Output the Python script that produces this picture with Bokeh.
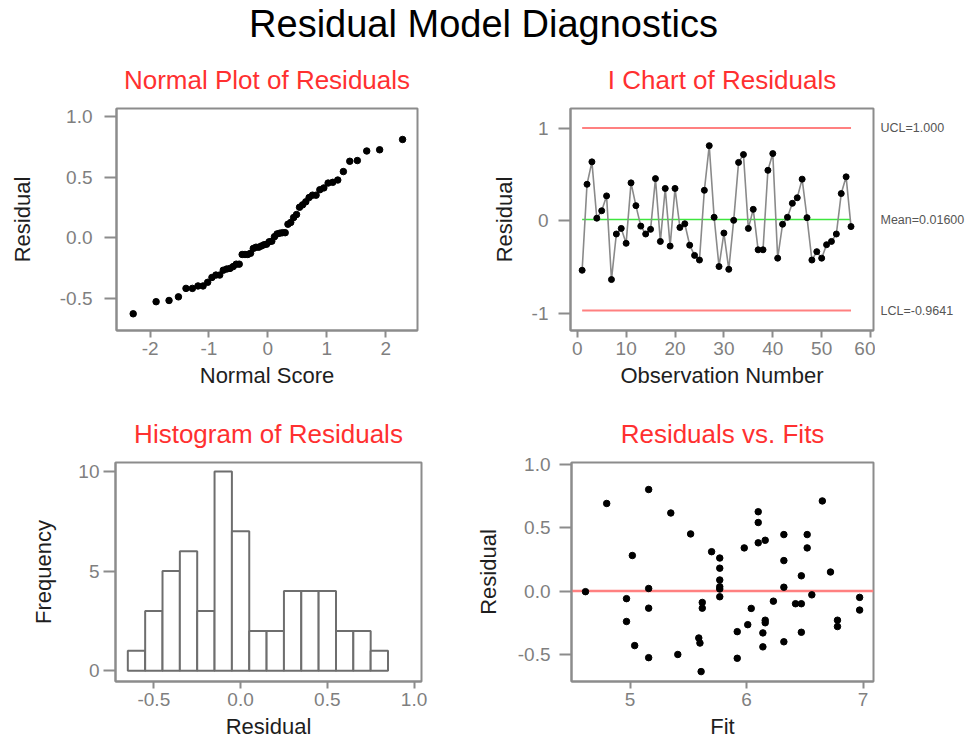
from statistics import NormalDist
from bokeh.plotting import figure
from bokeh.models import FixedTicker, PrintfTickFormatter, Range1d
from bokeh.core.properties import value
from bokeh.layouts import column, row
from bokeh.embed import file_html
from bokeh.resources import INLINE

# ---------------- data ----------------
main_title = "Residual Model Diagnostics"

# residuals in observation order (I chart)
residuals = [-0.53, 0.395, 0.636, 0.03, 0.11, 0.27, -0.63, -0.14, -0.08, -0.24,
             0.41, 0.165, -0.055, -0.14, -0.09, 0.456, -0.22, 0.35, -0.27, 0.35,
             -0.07, -0.03, -0.26, -0.37, -0.42, 0.33, 0.81, 0.04, -0.49, -0.13,
             -0.52, 0.007, 0.63, 0.715, -0.08, 0.125, -0.31, -0.31, 0.545, 0.725,
             -0.40, -0.035, 0.04, 0.19, 0.25, 0.45, 0.036, -0.42, -0.33, -0.40,
             -0.255, -0.22, -0.14, 0.295, 0.475, -0.06]
observations = list(range(1, len(residuals) + 1))
ucl = 1.000
center_mean = 0.01600
lcl = -0.9641

# residuals vs fits
fits = [4.618, 4.80, 4.97, 4.97, 5.02, 5.04, 5.16, 5.16, 5.16, 5.16,
        5.35, 5.41, 5.52, 5.59, 5.60, 5.61, 5.62, 5.62, 5.70, 5.77,
        5.77, 5.77, 5.77, 5.77, 5.77, 5.92, 5.92, 5.98, 6.01, 6.04,
        6.10, 6.10, 6.10, 6.14, 6.14, 6.16, 6.16, 6.16, 6.23, 6.32,
        6.32, 6.32, 6.32, 6.42, 6.47, 6.47, 6.47, 6.52, 6.52, 6.56,
        6.65, 6.72, 6.78, 6.78, 6.97, 6.97]
fit_residuals = [-0.005, 0.69, -0.06, -0.24, 0.28, -0.43, 0.80, 0.02, -0.135, -0.525,
                 0.615, -0.50, 0.45, -0.37, -0.41, -0.635, -0.09, -0.135, 0.31, 0.26,
                 0.18, 0.087, 0.034, 0.016, -0.045, -0.32, -0.53, 0.34, -0.265, -0.137,
                 0.625, 0.54, 0.38, -0.33, -0.44, 0.40, -0.23, -0.25, -0.08, 0.445,
                 0.24, 0.03, -0.40, -0.10, -0.10, 0.12, -0.325, 0.445, 0.34, -0.03,
                 0.71, 0.15, -0.23, -0.28, -0.05, -0.15]

# histogram
hist_centers = [-0.6, -0.5, -0.4, -0.3, -0.2, -0.1, 0.0, 0.1, 0.2, 0.3, 0.4, 0.5, 0.6, 0.7, 0.8]
hist_counts = [1, 3, 5, 6, 3, 10, 7, 2, 2, 4, 4, 4, 2, 2, 1]
bin_width = 0.1

# normal plot: sorted residuals vs Blom normal scores
n = len(residuals)
sorted_res = sorted(residuals)
normal_scores = [NormalDist().inv_cdf((i + 1 - 0.375) / (n + 0.25)) for i in range(n)]

# ticks
np_xticks = [-2, -1, 0, 1, 2]
res_ticks = [-0.5, 0.0, 0.5, 1.0]
ic_xticks = [0, 10, 20, 30, 40, 50, 60]
ic_yticks = [-1, 0, 1]
hist_xticks = [-0.5, 0.0, 0.5, 1.0]
hist_yticks = [0, 5, 10]
fit_xticks = [5, 6, 7]

# ---------------- style ----------------
FONT = "Liberation Sans"
GREY = "#8c8c8c"
TICK_TXT = "#7f7f7f"
TITLE_RED = "#ff3030"


def make_fig(title, width, height, bl, br, bt, bb, xr, yr):
    p = figure(width=width, height=height, title=title, output_backend="svg",
               toolbar_location=None, x_range=Range1d(*xr), y_range=Range1d(*yr),
               min_border_left=bl, min_border_right=br, min_border_top=bt,
               min_border_bottom=bb)
    p.title.align = "center"
    p.title.text_font = FONT
    p.title.text_font_size = "26px"
    p.title.text_font_style = "normal"
    p.title.text_color = TITLE_RED
    p.title.standoff = 27
    p.xgrid.visible = False
    p.ygrid.visible = False
    p.outline_line_color = GREY
    p.outline_line_width = 2
    p.outline_line_alpha = 1
    p.background_fill_color = "white"
    p.border_fill_color = "white"
    for ax in (p.xaxis[0], p.yaxis[0]):
        ax.axis_line_color = GREY
        ax.axis_line_width = 2
        ax.major_tick_line_color = GREY
        ax.major_tick_line_width = 2
        ax.major_tick_in = 0
        ax.minor_tick_line_color = None
        ax.major_label_text_font = FONT
        ax.major_label_text_font_size = "19px"
        ax.major_label_text_color = TICK_TXT
        ax.axis_label_text_font = FONT
        ax.axis_label_text_font_size = "22px"
        ax.axis_label_text_font_style = "normal"
        ax.axis_label_text_color = "#1e1e1e"
    p.xaxis[0].major_tick_out = 7
    p.xaxis[0].major_label_standoff = 4
    p.xaxis[0].axis_label_standoff = 5
    p.yaxis[0].major_tick_out = 12
    return p


def blank_fig(width, height, xr, yr, bt=0, bb=0):
    p = figure(width=width, height=height, output_backend="svg", toolbar_location=None,
               x_range=Range1d(*xr), y_range=yr, x_axis_location=None,
               y_axis_location=None, min_border_left=0, min_border_right=0,
               min_border_top=bt, min_border_bottom=bb)
    p.xgrid.visible = False
    p.ygrid.visible = False
    p.outline_line_color = None
    p.background_fill_color = "white"
    p.border_fill_color = "white"
    return p


H0, H1, H2 = 46, 349, 349     # title strip, top row, bottom row heights

# 0. main title strip
p0 = blank_fig(966, H0, (0, 1), Range1d(0, 1))
p0.text(x=[0.5], y=[0.5], text=[main_title], text_font=value(FONT),
        text_font_size="38px", text_color="black", text_align="center",
        text_baseline="middle")

# 1. Normal plot of residuals
p1 = make_fig("Normal Plot of Residuals", 483, H1, 116, 66, 62, 65,
              (-2.57, 2.54), (-0.768, 1.066))
p1.scatter(normal_scores, sorted_res, size=6.5, color="black")
p1.xaxis.ticker = FixedTicker(ticks=np_xticks)
p1.xaxis.formatter = PrintfTickFormatter(format="%d")
p1.yaxis.ticker = FixedTicker(ticks=res_ticks)
p1.yaxis.formatter = PrintfTickFormatter(format="%.1f")
p1.xaxis.axis_label = "Normal Score"
p1.yaxis.axis_label = "Residual"
p1.yaxis.major_label_standoff = 12
p1.yaxis.axis_label_standoff = 22

# 2. I chart of residuals
p2 = make_fig("I Chart of Residuals", 392, H1, 87, 2, 62, 65,
              (-1.38, 60.6), (-1.178, 1.21))
x0, x1 = observations[0], observations[-1]
p2.line([x0, x1], [ucl, ucl], color="#ff8080", line_width=2)
p2.line([x0, x1], [lcl, lcl], color="#ff8080", line_width=2)
p2.line([x0, x1], [center_mean, center_mean], color="#3ee63e", line_width=1.5)
p2.line(observations, residuals, color="#8a8a8a", line_width=1.6)
p2.scatter(observations, residuals, size=6, color="black")
p2.xaxis.ticker = FixedTicker(ticks=ic_xticks)
p2.xaxis.formatter = PrintfTickFormatter(format="%d")
p2.yaxis.ticker = FixedTicker(ticks=ic_yticks)
p2.yaxis.formatter = PrintfTickFormatter(format="%d")
p2.xaxis.axis_label = "Observation Number"
p2.yaxis.axis_label = "Residual"
p2.yaxis.major_label_standoff = 10
p2.yaxis.axis_label_standoff = 12

# control-limit labels, in a strip sharing the I chart's y range
p2l = blank_fig(91, H1, (0, 1), p2.y_range, bt=62, bb=65)
p2l.text(x=[0, 0, 0], y=[ucl, center_mean, lcl],
         text=[f"UCL={ucl:.3f}", f"Mean={center_mean:.5f}", f"LCL={lcl:.4f}"],
         x_offset=5, text_font=value(FONT), text_font_size="12.5px",
         text_color="#555555", text_align="left", text_baseline="middle")

# 3. Histogram of residuals
p3 = make_fig("Histogram of Residuals", 472, H2, 115, 51, 67, 63,
              (-0.721, 1.043), (-0.54, 10.45))
lefts = [c - bin_width / 2 for c in hist_centers]
rights = [c + bin_width / 2 for c in hist_centers]
p3.quad(left=lefts, right=rights, bottom=0, top=hist_counts, fill_color="white",
        line_color="#6e6e6e", line_width=2)
p3.xaxis.ticker = FixedTicker(ticks=hist_xticks)
p3.xaxis.formatter = PrintfTickFormatter(format="%.1f")
p3.yaxis.ticker = FixedTicker(ticks=hist_yticks)
p3.yaxis.formatter = PrintfTickFormatter(format="%d")
p3.xaxis.axis_label = "Residual"
p3.yaxis.axis_label = "Frequency"
p3.yaxis.major_label_standoff = 4
p3.yaxis.axis_label_standoff = 19

# 4. Residuals vs fits
p4 = make_fig("Residuals vs. Fits", 494, H2, 97, 93, 67, 63,
              (4.498, 7.089), (-0.713, 1.013))
p4.line([p4.x_range.start, p4.x_range.end], [0, 0], color="#ff8080", line_width=2.5)
p4.scatter(fits, fit_residuals, size=6.5, color="black")
p4.xaxis.ticker = FixedTicker(ticks=fit_xticks)
p4.xaxis.formatter = PrintfTickFormatter(format="%d")
p4.yaxis.ticker = FixedTicker(ticks=res_ticks)
p4.yaxis.formatter = PrintfTickFormatter(format="%.1f")
p4.xaxis.axis_label = "Fit"
p4.yaxis.axis_label = "Residual"
p4.yaxis.major_label_standoff = 9
p4.yaxis.axis_label_standoff = 14

layout = column(p0, row(p1, p2, p2l), row(p3, p4))
open("out.html", "w").write(file_html(layout, INLINE))
